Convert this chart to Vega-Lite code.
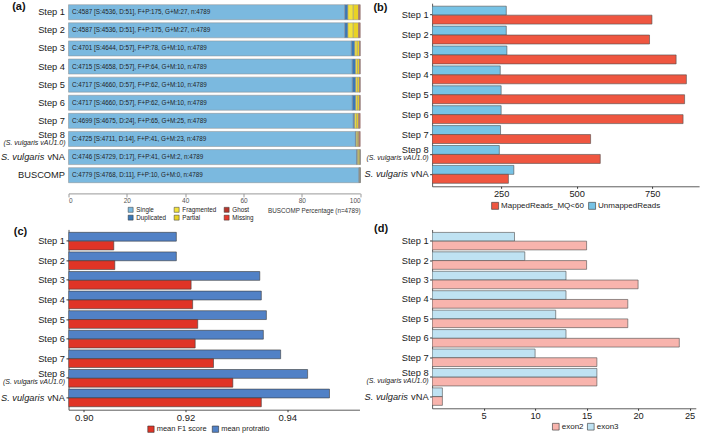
{
  "$schema": "https://vega.github.io/schema/vega-lite/v6.json",
  "padding": {"left": 0.5, "top": 1.2, "right": 0, "bottom": 0},
  "background": "white",
  "config": {"font": "Liberation Sans", "view": {"stroke": null}, "axis": {"grid": false}},
  "datasets": {
    "busco": [
      {"step": "Step 1", "cat": "Single", "n": 4536, "o": 1}, {"step": "Step 1", "cat": "Duplicated", "n": 51, "o": 2}, {"step": "Step 1", "cat": "Fragmented", "n": 88, "o": 3}, {"step": "Step 1", "cat": "Partial", "n": 87, "o": 4}, {"step": "Step 1", "cat": "Ghost", "n": 20, "o": 5}, {"step": "Step 1", "cat": "Missing", "n": 7, "o": 6},
      {"step": "Step 2", "cat": "Single", "n": 4536, "o": 1}, {"step": "Step 2", "cat": "Duplicated", "n": 51, "o": 2}, {"step": "Step 2", "cat": "Fragmented", "n": 88, "o": 3}, {"step": "Step 2", "cat": "Partial", "n": 87, "o": 4}, {"step": "Step 2", "cat": "Ghost", "n": 20, "o": 5}, {"step": "Step 2", "cat": "Missing", "n": 7, "o": 6},
      {"step": "Step 3", "cat": "Single", "n": 4644, "o": 1}, {"step": "Step 3", "cat": "Duplicated", "n": 57, "o": 2}, {"step": "Step 3", "cat": "Fragmented", "n": 40, "o": 3}, {"step": "Step 3", "cat": "Partial", "n": 38, "o": 4}, {"step": "Step 3", "cat": "Ghost", "n": 6, "o": 5}, {"step": "Step 3", "cat": "Missing", "n": 4, "o": 6},
      {"step": "Step 4", "cat": "Single", "n": 4658, "o": 1}, {"step": "Step 4", "cat": "Duplicated", "n": 57, "o": 2}, {"step": "Step 4", "cat": "Fragmented", "n": 32, "o": 3}, {"step": "Step 4", "cat": "Partial", "n": 32, "o": 4}, {"step": "Step 4", "cat": "Ghost", "n": 6, "o": 5}, {"step": "Step 4", "cat": "Missing", "n": 4, "o": 6},
      {"step": "Step 5", "cat": "Single", "n": 4660, "o": 1}, {"step": "Step 5", "cat": "Duplicated", "n": 57, "o": 2}, {"step": "Step 5", "cat": "Fragmented", "n": 31, "o": 3}, {"step": "Step 5", "cat": "Partial", "n": 31, "o": 4}, {"step": "Step 5", "cat": "Ghost", "n": 6, "o": 5}, {"step": "Step 5", "cat": "Missing", "n": 4, "o": 6},
      {"step": "Step 6", "cat": "Single", "n": 4660, "o": 1}, {"step": "Step 6", "cat": "Duplicated", "n": 57, "o": 2}, {"step": "Step 6", "cat": "Fragmented", "n": 31, "o": 3}, {"step": "Step 6", "cat": "Partial", "n": 31, "o": 4}, {"step": "Step 6", "cat": "Ghost", "n": 6, "o": 5}, {"step": "Step 6", "cat": "Missing", "n": 4, "o": 6},
      {"step": "Step 7", "cat": "Single", "n": 4675, "o": 1}, {"step": "Step 7", "cat": "Duplicated", "n": 24, "o": 2}, {"step": "Step 7", "cat": "Fragmented", "n": 33, "o": 3}, {"step": "Step 7", "cat": "Partial", "n": 32, "o": 4}, {"step": "Step 7", "cat": "Ghost", "n": 15, "o": 5}, {"step": "Step 7", "cat": "Missing", "n": 10, "o": 6},
      {"step": "Step 8", "cat": "Single", "n": 4711, "o": 1}, {"step": "Step 8", "cat": "Duplicated", "n": 14, "o": 2}, {"step": "Step 8", "cat": "Fragmented", "n": 21, "o": 3}, {"step": "Step 8", "cat": "Partial", "n": 20, "o": 4}, {"step": "Step 8", "cat": "Ghost", "n": 14, "o": 5}, {"step": "Step 8", "cat": "Missing", "n": 9, "o": 6},
      {"step": "vNA", "cat": "Single", "n": 4729, "o": 1}, {"step": "vNA", "cat": "Duplicated", "n": 17, "o": 2}, {"step": "vNA", "cat": "Fragmented", "n": 21, "o": 3}, {"step": "vNA", "cat": "Partial", "n": 20, "o": 4}, {"step": "vNA", "cat": "Ghost", "n": 2, "o": 5}, {"step": "vNA", "cat": "Missing", "n": 0, "o": 6},
      {"step": "BUSCOMP", "cat": "Single", "n": 4768, "o": 1}, {"step": "BUSCOMP", "cat": "Duplicated", "n": 11, "o": 2}, {"step": "BUSCOMP", "cat": "Fragmented", "n": 5, "o": 3}, {"step": "BUSCOMP", "cat": "Partial", "n": 5, "o": 4}, {"step": "BUSCOMP", "cat": "Ghost", "n": 0, "o": 5}, {"step": "BUSCOMP", "cat": "Missing", "n": 0, "o": 6}
    ],
    "buscoLab": [
      {"step": "Step 1", "lab": "C:4587 [S:4536, D:51], F+P:175, G+M:27, n:4789"},
      {"step": "Step 2", "lab": "C:4587 [S:4536, D:51], F+P:175, G+M:27, n:4789"},
      {"step": "Step 3", "lab": "C:4701 [S:4644, D:57], F+P:78, G+M:10, n:4789"},
      {"step": "Step 4", "lab": "C:4715 [S:4658, D:57], F+P:64, G+M:10, n:4789"},
      {"step": "Step 5", "lab": "C:4717 [S:4660, D:57], F+P:62, G+M:10, n:4789"},
      {"step": "Step 6", "lab": "C:4717 [S:4660, D:57], F+P:62, G+M:10, n:4789"},
      {"step": "Step 7", "lab": "C:4699 [S:4675, D:24], F+P:65, G+M:25, n:4789"},
      {"step": "Step 8", "lab": "C:4725 [S:4711, D:14], F+P:41, G+M:23, n:4789"},
      {"step": "vNA", "lab": "C:4746 [S:4729, D:17], F+P:41, G+M:2, n:4789"},
      {"step": "BUSCOMP", "lab": "C:4779 [S:4768, D:11], F+P:10, G+M:0, n:4789"}
    ],
    "reads": [
      {"step": "Step 1", "type": "UnmappedReads", "v": 267}, {"step": "Step 1", "type": "MappedReads_MQ<60", "v": 749},
      {"step": "Step 2", "type": "UnmappedReads", "v": 267}, {"step": "Step 2", "type": "MappedReads_MQ<60", "v": 741},
      {"step": "Step 3", "type": "UnmappedReads", "v": 269}, {"step": "Step 3", "type": "MappedReads_MQ<60", "v": 829},
      {"step": "Step 4", "type": "UnmappedReads", "v": 247}, {"step": "Step 4", "type": "MappedReads_MQ<60", "v": 863},
      {"step": "Step 5", "type": "UnmappedReads", "v": 250}, {"step": "Step 5", "type": "MappedReads_MQ<60", "v": 857},
      {"step": "Step 6", "type": "UnmappedReads", "v": 250}, {"step": "Step 6", "type": "MappedReads_MQ<60", "v": 852},
      {"step": "Step 7", "type": "UnmappedReads", "v": 248}, {"step": "Step 7", "type": "MappedReads_MQ<60", "v": 546},
      {"step": "Step 8", "type": "UnmappedReads", "v": 244}, {"step": "Step 8", "type": "MappedReads_MQ<60", "v": 578},
      {"step": "vNA", "type": "UnmappedReads", "v": 292}, {"step": "vNA", "type": "MappedReads_MQ<60", "v": 274}
    ],
    "gene": [
      {"step": "Step 1", "type": "mean protratio", "v": 0.9182}, {"step": "Step 1", "type": "mean F1 score", "v": 0.9059},
      {"step": "Step 2", "type": "mean protratio", "v": 0.9182}, {"step": "Step 2", "type": "mean F1 score", "v": 0.9061},
      {"step": "Step 3", "type": "mean protratio", "v": 0.9346}, {"step": "Step 3", "type": "mean F1 score", "v": 0.9211},
      {"step": "Step 4", "type": "mean protratio", "v": 0.9349}, {"step": "Step 4", "type": "mean F1 score", "v": 0.9214},
      {"step": "Step 5", "type": "mean protratio", "v": 0.9359}, {"step": "Step 5", "type": "mean F1 score", "v": 0.9224},
      {"step": "Step 6", "type": "mean protratio", "v": 0.9353}, {"step": "Step 6", "type": "mean F1 score", "v": 0.9219},
      {"step": "Step 7", "type": "mean protratio", "v": 0.9387}, {"step": "Step 7", "type": "mean F1 score", "v": 0.9255},
      {"step": "Step 8", "type": "mean protratio", "v": 0.944}, {"step": "Step 8", "type": "mean F1 score", "v": 0.9293},
      {"step": "vNA", "type": "mean protratio", "v": 0.9483}, {"step": "vNA", "type": "mean F1 score", "v": 0.9349}
    ],
    "exon": [
      {"step": "Step 1", "type": "exon3", "v": 8}, {"step": "Step 1", "type": "exon2", "v": 15},
      {"step": "Step 2", "type": "exon3", "v": 9}, {"step": "Step 2", "type": "exon2", "v": 15},
      {"step": "Step 3", "type": "exon3", "v": 13}, {"step": "Step 3", "type": "exon2", "v": 20},
      {"step": "Step 4", "type": "exon3", "v": 13}, {"step": "Step 4", "type": "exon2", "v": 19},
      {"step": "Step 5", "type": "exon3", "v": 12}, {"step": "Step 5", "type": "exon2", "v": 19},
      {"step": "Step 6", "type": "exon3", "v": 13}, {"step": "Step 6", "type": "exon2", "v": 24},
      {"step": "Step 7", "type": "exon3", "v": 10}, {"step": "Step 7", "type": "exon2", "v": 16},
      {"step": "Step 8", "type": "exon3", "v": 16}, {"step": "Step 8", "type": "exon2", "v": 16},
      {"step": "vNA", "type": "exon3", "v": 1}, {"step": "vNA", "type": "exon2", "v": 1}
    ]
  },
  "spacing": 2.6,
  "resolve": {"scale": {"x": "independent", "y": "independent", "color": "independent", "yOffset": "independent"}, "legend": {"color": "independent"}},
  "hconcat": [
    {
      "spacing": 3.2,
      "resolve": {"scale": {"x": "independent", "y": "independent", "color": "independent", "yOffset": "independent"}, "legend": {"color": "independent"}},
      "vconcat": [
        {
          "width": 291.7, "height": 181,
          "layer": [
            {
              "data": {"name": "busco"},
              "mark": {"type": "bar", "stroke": "#8c8c8c", "strokeWidth": 0.5},
              "encoding": {
                "y": {"field": "step", "type": "nominal",
                  "scale": {"domain": ["Step 1", "Step 2", "Step 3", "Step 4", "Step 5", "Step 6", "Step 7", "Step 8", "vNA", "BUSCOMP"], "paddingInner": 0.17, "paddingOuter": 0.083},
                  "axis": {"title": null, "domain": false, "ticks": false, "labelPadding": 4, "labelFontSize": 9.3, "labelColor": "#1a1a1a",
                    "labelOffset": {"condition": {"test": "datum.value === 'Step 8'", "value": -3.5}, "value": 0}}},
                "x": {"field": "n", "type": "quantitative", "stack": "normalize", "scale": {"domain": [0, 1], "nice": false},
                  "axis": {"title": "BUSCOMP Percentage (n=4789)", "titleAnchor": "end", "titleFontSize": 6.3, "titleFontWeight": "normal", "titleColor": "#333", "titlePadding": 4,
                    "values": [0, 0.2, 0.4, 0.6, 0.8, 1], "labelExpr": "format(datum.value * 100, 'd')", "offset": 9.2, "domainColor": "#999", "tickColor": "#999", "tickSize": 3.5,
                    "labelFontSize": 6.5, "labelColor": "#555", "labelPadding": 0.5}},
                "color": {"field": "cat", "type": "nominal",
                  "scale": {"domain": ["Single", "Duplicated", "Fragmented", "Partial", "Ghost", "Missing"], "range": ["#7bb9df", "#3b78b6", "#f3e23b", "#e9d224", "#b5372d", "#e53a2e"]},
                  "legend": {"title": null, "orient": "none", "legendX": 59, "legendY": 203.3, "columns": 3, "symbolType": "square", "symbolSize": 25,
                    "symbolStrokeColor": "#333", "symbolStrokeWidth": 0.5, "labelFontSize": 6.3, "labelOffset": 2.5, "columnPadding": 6, "rowPadding": 0, "padding": 0, "labelColor": "#222"}},
                "order": {"field": "o", "type": "quantitative"}
              }
            },
            {
              "data": {"name": "buscoLab"},
              "mark": {"type": "text", "align": "left", "baseline": "middle", "dx": 3.5, "fontSize": 6.3, "color": "#1f1f1f"},
              "encoding": {
                "y": {"field": "step", "type": "nominal"},
                "x": {"datum": 0, "type": "quantitative"},
                "text": {"field": "lab"}
              }
            },
            {
              "data": {"values": [{"t": "S. vulgaris"}]},
              "mark": {"type": "text", "align": "right", "baseline": "middle", "dx": -24.2, "fontSize": 9.3, "fontStyle": "italic", "color": "#1a1a1a"},
              "encoding": {"y": {"datum": "vNA", "type": "nominal"}, "x": {"datum": 0, "type": "quantitative"}, "text": {"field": "t"}}
            },
            {
              "data": {"values": [{"t": "(S. vulgaris vAU1.0)"}]},
              "mark": {"type": "text", "align": "right", "baseline": "middle", "dx": -3, "dy": 4, "fontSize": 7, "fontStyle": "italic", "color": "#1a1a1a"},
              "encoding": {"y": {"datum": "Step 8", "type": "nominal"}, "x": {"datum": 0, "type": "quantitative"}, "text": {"field": "t"}}
            },
            {
              "data": {"values": [{"t": "(a)"}]},
              "mark": {"type": "text", "align": "left", "baseline": "middle", "dx": -56.3, "dy": -4.8, "fontSize": 11, "fontWeight": "bold", "color": "#111"},
              "encoding": {"y": {"datum": "Step 1", "type": "nominal"}, "x": {"datum": 0, "type": "quantitative"}, "text": {"field": "t"}}
            }
          ]
        },
        {
          "width": 291, "height": 180.3,
          "layer": [
            {
              "data": {"name": "gene"},
              "mark": {"type": "bar", "stroke": "#3d3d3d", "strokeWidth": 0.6, "clip": true},
              "encoding": {
                "y": {"field": "step", "type": "nominal",
                  "scale": {"domain": ["Step 1", "Step 2", "Step 3", "Step 4", "Step 5", "Step 6", "Step 7", "Step 8", "vNA"], "paddingInner": 0.1, "paddingOuter": 0.15},
                  "axis": {"title": null, "domainColor": "#333", "domainWidth": 0.8, "tickColor": "#333", "tickSize": 2.5, "labelPadding": 1.5, "labelFontSize": 9.3, "labelColor": "#1a1a1a",
                    "labelOffset": {"condition": {"test": "datum.value === 'Step 8'", "value": -4}, "value": 0}}},
                "yOffset": {"field": "type", "type": "nominal", "scale": {"domain": ["mean protratio", "mean F1 score"], "paddingInner": 0, "paddingOuter": 0}},
                "x": {"field": "v", "type": "quantitative", "scale": {"domain": [0.897, 0.9542], "nice": false, "zero": false},
                  "axis": {"title": null, "values": [0.9, 0.92, 0.94], "format": ".2f", "domainColor": "#333", "domainWidth": 0.8, "tickColor": "#333", "tickSize": 2, "labelPadding": 1, "labelFontSize": 9.5, "labelColor": "#1a1a1a"}},
                "x2": {"datum": 0.897},
                "color": {"field": "type", "type": "nominal",
                  "scale": {"domain": ["mean F1 score", "mean protratio"], "range": ["#e03426", "#5181c6"]},
                  "legend": {"title": null, "orient": "none", "legendX": 78.7, "legendY": 195.6, "direction": "horizontal", "symbolType": "square", "symbolSize": 40,
                    "symbolStrokeColor": "#333", "symbolStrokeWidth": 0.6, "labelFontSize": 7.5, "labelOffset": 2, "columnPadding": 3.5, "padding": 0, "labelColor": "#222"}}
              }
            },
            {
              "data": {"values": [{"t": "S. vulgaris"}]},
              "mark": {"type": "text", "align": "right", "baseline": "middle", "dx": -24.2, "fontSize": 9.3, "fontStyle": "italic", "color": "#1a1a1a"},
              "encoding": {"y": {"datum": "vNA", "type": "nominal"}, "x": {"datum": 0.897, "type": "quantitative"}, "text": {"field": "t"}}
            },
            {
              "data": {"values": [{"t": "(S. vulgaris vAU1.0)"}]},
              "mark": {"type": "text", "align": "right", "baseline": "middle", "dx": -3.5, "dy": 4, "fontSize": 7, "fontStyle": "italic", "color": "#1a1a1a"},
              "encoding": {"y": {"datum": "Step 8", "type": "nominal"}, "x": {"datum": 0.897, "type": "quantitative"}, "text": {"field": "t"}}
            },
            {
              "data": {"values": [{"t": "(c)"}]},
              "mark": {"type": "text", "align": "left", "baseline": "middle", "dx": -54.7, "dy": -8.8, "fontSize": 11, "fontWeight": "bold", "color": "#111"},
              "encoding": {"y": {"datum": "Step 1", "type": "nominal"}, "x": {"datum": 0.897, "type": "quantitative"}, "text": {"field": "t"}}
            }
          ]
        }
      ]
    },
    {
      "spacing": 11.3,
      "resolve": {"scale": {"x": "independent", "y": "independent", "color": "independent", "yOffset": "independent"}, "legend": {"color": "independent"}},
      "vconcat": [
        {
          "width": 267, "height": 183.1,
          "layer": [
            {
              "data": {"name": "reads"},
              "mark": {"type": "bar", "stroke": "#4d4d4d", "strokeWidth": 0.6, "clip": true},
              "encoding": {
                "y": {"field": "step", "type": "nominal",
                  "scale": {"domain": ["Step 1", "Step 2", "Step 3", "Step 4", "Step 5", "Step 6", "Step 7", "Step 8", "vNA"], "paddingInner": 0.1, "paddingOuter": 0.15},
                  "axis": {"title": null, "domainColor": "#333", "domainWidth": 0.8, "tickColor": "#333", "tickSize": 2.5, "labelPadding": 1.5, "labelFontSize": 9.3, "labelColor": "#1a1a1a",
                    "labelOffset": {"condition": {"test": "datum.value === 'Step 8'", "value": -4}, "value": 0}}},
                "yOffset": {"field": "type", "type": "nominal", "scale": {"domain": ["UnmappedReads", "MappedReads_MQ<60"], "paddingInner": 0, "paddingOuter": 0}},
                "x": {"field": "v", "type": "quantitative", "scale": {"domain": [21.5, 905], "nice": false, "zero": false},
                  "axis": {"title": null, "values": [250, 500, 750], "domainColor": "#333", "domainWidth": 0.8, "tickColor": "#333", "tickSize": 2, "labelPadding": 1, "labelFontSize": 9.3, "labelColor": "#1a1a1a"}},
                "x2": {"datum": 21.5},
                "color": {"field": "type", "type": "nominal",
                  "scale": {"domain": ["MappedReads_MQ<60", "UnmappedReads"], "range": ["#ef5640", "#77c3e6"]},
                  "legend": {"title": null, "orient": "none", "legendX": 59, "legendY": 198.5, "direction": "horizontal", "symbolType": "square", "symbolSize": 49,
                    "symbolStrokeColor": "#333", "symbolStrokeWidth": 0.6, "labelFontSize": 8, "labelOffset": 2, "columnPadding": 3, "padding": 0, "labelColor": "#222"}}
              }
            },
            {
              "data": {"values": [{"t": "S. vulgaris"}]},
              "mark": {"type": "text", "align": "right", "baseline": "middle", "dx": -24.2, "fontSize": 9.3, "fontStyle": "italic", "color": "#1a1a1a"},
              "encoding": {"y": {"datum": "vNA", "type": "nominal"}, "x": {"datum": 21.5, "type": "quantitative"}, "text": {"field": "t"}}
            },
            {
              "data": {"values": [{"t": "(S. vulgaris vAU1.0)"}]},
              "mark": {"type": "text", "align": "right", "baseline": "middle", "dx": -3.5, "dy": 4, "fontSize": 7, "fontStyle": "italic", "color": "#1a1a1a"},
              "encoding": {"y": {"datum": "Step 8", "type": "nominal"}, "x": {"datum": 21.5, "type": "quantitative"}, "text": {"field": "t"}}
            },
            {
              "data": {"values": [{"t": "(b)"}]},
              "mark": {"type": "text", "align": "left", "baseline": "middle", "dx": -58.7, "dy": -7.2, "fontSize": 11, "fontWeight": "bold", "color": "#111"},
              "encoding": {"y": {"datum": "Step 1", "type": "nominal"}, "x": {"datum": 21.5, "type": "quantitative"}, "text": {"field": "t"}}
            }
          ]
        },
        {
          "width": 263.7, "height": 178.8,
          "layer": [
            {
              "data": {"name": "exon"},
              "mark": {"type": "bar", "stroke": "#4d4d4d", "strokeWidth": 0.6, "clip": true},
              "encoding": {
                "y": {"field": "step", "type": "nominal",
                  "scale": {"domain": ["Step 1", "Step 2", "Step 3", "Step 4", "Step 5", "Step 6", "Step 7", "Step 8", "vNA"], "paddingInner": 0.1, "paddingOuter": 0.15},
                  "axis": {"title": null, "domainColor": "#333", "domainWidth": 0.8, "tickColor": "#333", "tickSize": 2.5, "labelPadding": 1.5, "labelFontSize": 9.3, "labelColor": "#1a1a1a",
                    "labelOffset": {"condition": {"test": "datum.value === 'Step 8'", "value": -4}, "value": 0}}},
                "yOffset": {"field": "type", "type": "nominal", "scale": {"domain": ["exon3", "exon2"], "paddingInner": 0, "paddingOuter": 0}},
                "x": {"field": "v", "type": "quantitative", "scale": {"domain": [0, 25.6], "nice": false},
                  "axis": {"title": null, "values": [5, 10, 15, 20, 25], "domainColor": "#333", "domainWidth": 0.8, "tickColor": "#333", "tickSize": 2, "labelPadding": 1, "labelFontSize": 9.3, "labelColor": "#1a1a1a"}},
                "color": {"field": "type", "type": "nominal",
                  "scale": {"domain": ["exon2", "exon3"], "range": ["#f8b4ad", "#bfe2f2"]},
                  "legend": {"title": null, "orient": "none", "legendX": 119.7, "legendY": 193, "direction": "horizontal", "symbolType": "square", "symbolSize": 45,
                    "symbolStrokeColor": "#333", "symbolStrokeWidth": 0.6, "labelFontSize": 8, "labelOffset": 2, "columnPadding": 2, "padding": 0, "labelColor": "#222"}}
              }
            },
            {
              "data": {"values": [{"t": "S. vulgaris"}]},
              "mark": {"type": "text", "align": "right", "baseline": "middle", "dx": -24.2, "fontSize": 9.3, "fontStyle": "italic", "color": "#1a1a1a"},
              "encoding": {"y": {"datum": "vNA", "type": "nominal"}, "x": {"datum": 0, "type": "quantitative"}, "text": {"field": "t"}}
            },
            {
              "data": {"values": [{"t": "(S. vulgaris vAU1.0)"}]},
              "mark": {"type": "text", "align": "right", "baseline": "middle", "dx": -3.5, "dy": 4, "fontSize": 7, "fontStyle": "italic", "color": "#1a1a1a"},
              "encoding": {"y": {"datum": "Step 8", "type": "nominal"}, "x": {"datum": 0, "type": "quantitative"}, "text": {"field": "t"}}
            },
            {
              "data": {"values": [{"t": "(d)"}]},
              "mark": {"type": "text", "align": "left", "baseline": "middle", "dx": -58, "dy": -12.1, "fontSize": 11, "fontWeight": "bold", "color": "#111"},
              "encoding": {"y": {"datum": "Step 1", "type": "nominal"}, "x": {"datum": 0, "type": "quantitative"}, "text": {"field": "t"}}
            }
          ]
        }
      ]
    }
  ]
}
